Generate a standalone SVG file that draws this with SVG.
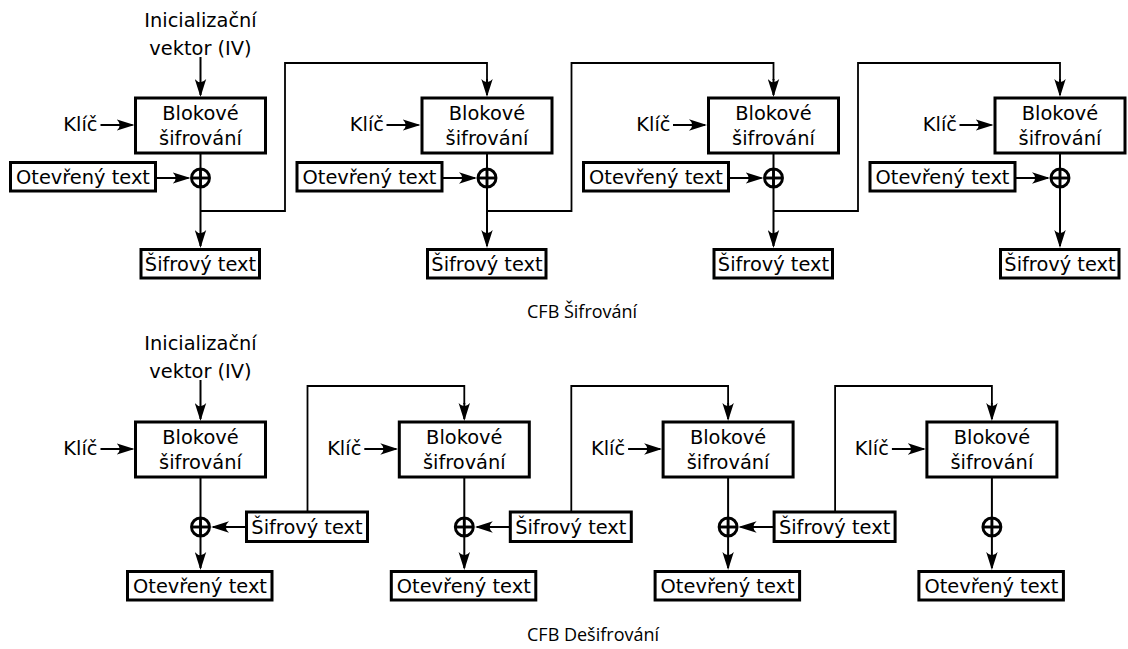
<svg xmlns="http://www.w3.org/2000/svg" width="1128" height="649" viewBox="0 0 1128 649">
<style>
.bx{fill:#fff;stroke:#000;stroke-width:3}
.t{font-family:"DejaVu Sans",sans-serif;font-size:19.4px;fill:#000;text-anchor:middle}
.te{font-family:"DejaVu Sans",sans-serif;font-size:19.4px;fill:#000;text-anchor:end}
.cap{font-family:"Open Sans",sans-serif;font-size:18px;fill:#000}
.ln{fill:none;stroke:#000;stroke-width:2}
.fb{fill:none;stroke:#000;stroke-width:1.8}
.ar{fill:none;stroke:#000;stroke-width:2;marker-end:url(#ah)}
.xr{fill:none;stroke:#000;stroke-width:2.9}
</style>
<defs>
<marker id="ah" markerUnits="userSpaceOnUse" viewBox="0 0 18 12" markerWidth="18" markerHeight="12" refX="16" refY="6" orient="auto">
<path d="M18,6 L0,0.3 Q6.5,6 0,11.7 Z" fill="#000"/>
</marker>
</defs>
<rect width="1128" height="649" fill="#fff"/>

<g id="connectors">
<!-- encryption -->
<line class="ar" x1="200.5" y1="57" x2="200.5" y2="95"/>
<line class="ar" x1="100.5" y1="125" x2="132.5" y2="125"/>
<line class="ar" x1="386.5" y1="125" x2="418.5" y2="125"/>
<line class="ar" x1="673" y1="125" x2="705" y2="125"/>
<line class="ar" x1="959.5" y1="125" x2="991.5" y2="125"/>
<line class="ln" x1="200.5" y1="153" x2="200.5" y2="169"/>
<line class="ln" x1="487" y1="153" x2="487" y2="169"/>
<line class="ln" x1="773.5" y1="153" x2="773.5" y2="169"/>
<line class="ln" x1="1060" y1="153" x2="1060" y2="169"/>
<line class="ar" x1="155.5" y1="178" x2="188.5" y2="178"/>
<line class="ar" x1="442" y1="178" x2="475" y2="178"/>
<line class="ar" x1="728.5" y1="178" x2="761.5" y2="178"/>
<line class="ar" x1="1015" y1="178" x2="1048" y2="178"/>
<line class="ar" x1="200.5" y1="187" x2="200.5" y2="246"/>
<line class="ar" x1="487" y1="187" x2="487" y2="246"/>
<line class="ar" x1="773.5" y1="187" x2="773.5" y2="246"/>
<line class="ar" x1="1060" y1="187" x2="1060" y2="246"/>
<polyline class="fb" points="200.5,211 285,211 285,63 487,63 487,80"/>
<line class="ar" x1="487" y1="79" x2="487" y2="95"/>
<polyline class="fb" points="487,211 571.5,211 571.5,63 773.5,63 773.5,80"/>
<line class="ar" x1="773.5" y1="79" x2="773.5" y2="95"/>
<polyline class="fb" points="773.5,211 858,211 858,63 1060,63 1060,80"/>
<line class="ar" x1="1060" y1="79" x2="1060" y2="95"/>
<!-- decryption -->
<line class="ar" x1="200.5" y1="380" x2="200.5" y2="419"/>
<line class="ar" x1="100.5" y1="449" x2="132.5" y2="449"/>
<line class="ar" x1="364.3" y1="449" x2="396.3" y2="449"/>
<line class="ar" x1="628.1" y1="449" x2="660.1" y2="449"/>
<line class="ar" x1="891.9" y1="449" x2="923.9" y2="449"/>
<line class="ln" x1="200.5" y1="477" x2="200.5" y2="518"/>
<line class="ln" x1="464.3" y1="477" x2="464.3" y2="518"/>
<line class="ln" x1="728.1" y1="477" x2="728.1" y2="518"/>
<line class="ln" x1="991.9" y1="477" x2="991.9" y2="518"/>
<line class="ar" x1="200.5" y1="536" x2="200.5" y2="568"/>
<line class="ar" x1="464.3" y1="536" x2="464.3" y2="568"/>
<line class="ar" x1="728.1" y1="536" x2="728.1" y2="568"/>
<line class="ar" x1="991.9" y1="536" x2="991.9" y2="568"/>
<line class="ar" x1="246.5" y1="527" x2="213" y2="527"/>
<line class="ar" x1="510.3" y1="527" x2="476.8" y2="527"/>
<line class="ar" x1="774.1" y1="527" x2="740.6" y2="527"/>
<polyline class="fb" points="307.5,512 307.5,386 464.3,386 464.3,404"/>
<line class="ar" x1="464.3" y1="403" x2="464.3" y2="419"/>
<polyline class="fb" points="571.3,512 571.3,386 728.1,386 728.1,404"/>
<line class="ar" x1="728.1" y1="403" x2="728.1" y2="419"/>
<polyline class="fb" points="835.1,512 835.1,386 991.9,386 991.9,404"/>
<line class="ar" x1="991.9" y1="403" x2="991.9" y2="419"/>
</g>

<!-- ENCRYPTION -->
<g id="enc-iv"><text class="t" x="200.5" y="26.5">Inicializační</text><text class="t" x="200.5" y="54.5">vektor (IV)</text></g>

<g id="enc-block-1"><rect class="bx" x="135.5" y="98" width="130" height="55"/><text class="t" x="200.5" y="119.5">Blokové</text><text class="t" x="200.5" y="144.5">šifrování</text></g>
<g id="enc-key-1"><text class="te" x="97.5" y="131">Klíč</text></g>
<g id="enc-pt-1"><rect class="bx" x="10.5" y="162.5" width="145" height="28.5"/><text class="t" x="83" y="184">Otevřený text</text></g>
<g id="enc-xor-1"><circle class="xr" cx="200.5" cy="178" r="9"/><line class="xr" x1="191.5" y1="178" x2="209.5" y2="178"/><line class="xr" x1="200.5" y1="169" x2="200.5" y2="187"/></g>
<g id="enc-ct-1"><rect class="bx" x="141" y="249.5" width="118.5" height="28.5"/><text class="t" x="200.5" y="270.5">Šifrový text</text></g>

<g id="enc-block-2"><rect class="bx" x="422" y="98" width="130" height="55"/><text class="t" x="487" y="119.5">Blokové</text><text class="t" x="487" y="144.5">šifrování</text></g>
<g id="enc-key-2"><text class="te" x="384" y="131">Klíč</text></g>
<g id="enc-pt-2"><rect class="bx" x="297" y="162.5" width="145" height="28.5"/><text class="t" x="369.5" y="184">Otevřený text</text></g>
<g id="enc-xor-2"><circle class="xr" cx="487" cy="178" r="9"/><line class="xr" x1="478" y1="178" x2="496" y2="178"/><line class="xr" x1="487" y1="169" x2="487" y2="187"/></g>
<g id="enc-ct-2"><rect class="bx" x="427.5" y="249.5" width="118.5" height="28.5"/><text class="t" x="487" y="270.5">Šifrový text</text></g>

<g id="enc-block-3"><rect class="bx" x="708.5" y="98" width="130" height="55"/><text class="t" x="773.5" y="119.5">Blokové</text><text class="t" x="773.5" y="144.5">šifrování</text></g>
<g id="enc-key-3"><text class="te" x="670.5" y="131">Klíč</text></g>
<g id="enc-pt-3"><rect class="bx" x="583.5" y="162.5" width="145" height="28.5"/><text class="t" x="656" y="184">Otevřený text</text></g>
<g id="enc-xor-3"><circle class="xr" cx="773.5" cy="178" r="9"/><line class="xr" x1="764.5" y1="178" x2="782.5" y2="178"/><line class="xr" x1="773.5" y1="169" x2="773.5" y2="187"/></g>
<g id="enc-ct-3"><rect class="bx" x="714" y="249.5" width="118.5" height="28.5"/><text class="t" x="773.5" y="270.5">Šifrový text</text></g>

<g id="enc-block-4"><rect class="bx" x="995" y="98" width="130" height="55"/><text class="t" x="1060" y="119.5">Blokové</text><text class="t" x="1060" y="144.5">šifrování</text></g>
<g id="enc-key-4"><text class="te" x="957" y="131">Klíč</text></g>
<g id="enc-pt-4"><rect class="bx" x="870" y="162.5" width="145" height="28.5"/><text class="t" x="942.5" y="184">Otevřený text</text></g>
<g id="enc-xor-4"><circle class="xr" cx="1060" cy="178" r="9"/><line class="xr" x1="1051" y1="178" x2="1069" y2="178"/><line class="xr" x1="1060" y1="169" x2="1060" y2="187"/></g>
<g id="enc-ct-4"><rect class="bx" x="1000.5" y="249.5" width="118.5" height="28.5"/><text class="t" x="1060" y="270.5">Šifrový text</text></g>

<g id="enc-caption"><text class="cap" x="527" y="318">CFB Šifrování</text></g>

<!-- DECRYPTION -->
<g id="dec-iv"><text class="t" x="200.5" y="349.5">Inicializační</text><text class="t" x="200.5" y="377.5">vektor (IV)</text></g>

<g id="dec-block-1"><rect class="bx" x="135.5" y="422" width="130" height="55"/><text class="t" x="200.5" y="443.5">Blokové</text><text class="t" x="200.5" y="468.5">šifrování</text></g>
<g id="dec-key-1"><text class="te" x="97.5" y="455">Klíč</text></g>
<g id="dec-xor-1"><circle class="xr" cx="200.5" cy="527" r="9"/><line class="xr" x1="191.5" y1="527" x2="209.5" y2="527"/><line class="xr" x1="200.5" y1="518" x2="200.5" y2="536"/></g>
<g id="dec-ct-1"><rect class="bx" x="246.5" y="512" width="121" height="29.5"/><text class="t" x="307" y="533.5">Šifrový text</text></g>
<g id="dec-pt-1"><rect class="bx" x="127.5" y="571.5" width="144.5" height="28.5"/><text class="t" x="200" y="592.5">Otevřený text</text></g>

<g id="dec-block-2"><rect class="bx" x="399.3" y="422" width="130" height="55"/><text class="t" x="464.3" y="443.5">Blokové</text><text class="t" x="464.3" y="468.5">šifrování</text></g>
<g id="dec-key-2"><text class="te" x="361.3" y="455">Klíč</text></g>
<g id="dec-xor-2"><circle class="xr" cx="464.3" cy="527" r="9"/><line class="xr" x1="455.3" y1="527" x2="473.3" y2="527"/><line class="xr" x1="464.3" y1="518" x2="464.3" y2="536"/></g>
<g id="dec-ct-2"><rect class="bx" x="510.3" y="512" width="121" height="29.5"/><text class="t" x="570.8" y="533.5">Šifrový text</text></g>
<g id="dec-pt-2"><rect class="bx" x="391.3" y="571.5" width="144.5" height="28.5"/><text class="t" x="463.8" y="592.5">Otevřený text</text></g>

<g id="dec-block-3"><rect class="bx" x="663.1" y="422" width="130" height="55"/><text class="t" x="728.1" y="443.5">Blokové</text><text class="t" x="728.1" y="468.5">šifrování</text></g>
<g id="dec-key-3"><text class="te" x="625.1" y="455">Klíč</text></g>
<g id="dec-xor-3"><circle class="xr" cx="728.1" cy="527" r="9"/><line class="xr" x1="719.1" y1="527" x2="737.1" y2="527"/><line class="xr" x1="728.1" y1="518" x2="728.1" y2="536"/></g>
<g id="dec-ct-3"><rect class="bx" x="774.1" y="512" width="121" height="29.5"/><text class="t" x="834.6" y="533.5">Šifrový text</text></g>
<g id="dec-pt-3"><rect class="bx" x="655.1" y="571.5" width="144.5" height="28.5"/><text class="t" x="727.6" y="592.5">Otevřený text</text></g>

<g id="dec-block-4"><rect class="bx" x="926.9" y="422" width="130" height="55"/><text class="t" x="991.9" y="443.5">Blokové</text><text class="t" x="991.9" y="468.5">šifrování</text></g>
<g id="dec-key-4"><text class="te" x="888.9" y="455">Klíč</text></g>
<g id="dec-xor-4"><circle class="xr" cx="991.9" cy="527" r="9"/><line class="xr" x1="982.9" y1="527" x2="1000.9" y2="527"/><line class="xr" x1="991.9" y1="518" x2="991.9" y2="536"/></g>
<g id="dec-pt-4"><rect class="bx" x="918.9" y="571.5" width="144.5" height="28.5"/><text class="t" x="991.4" y="592.5">Otevřený text</text></g>

<g id="dec-caption"><text class="cap" x="527" y="641">CFB Dešifrování</text></g>
</svg>
